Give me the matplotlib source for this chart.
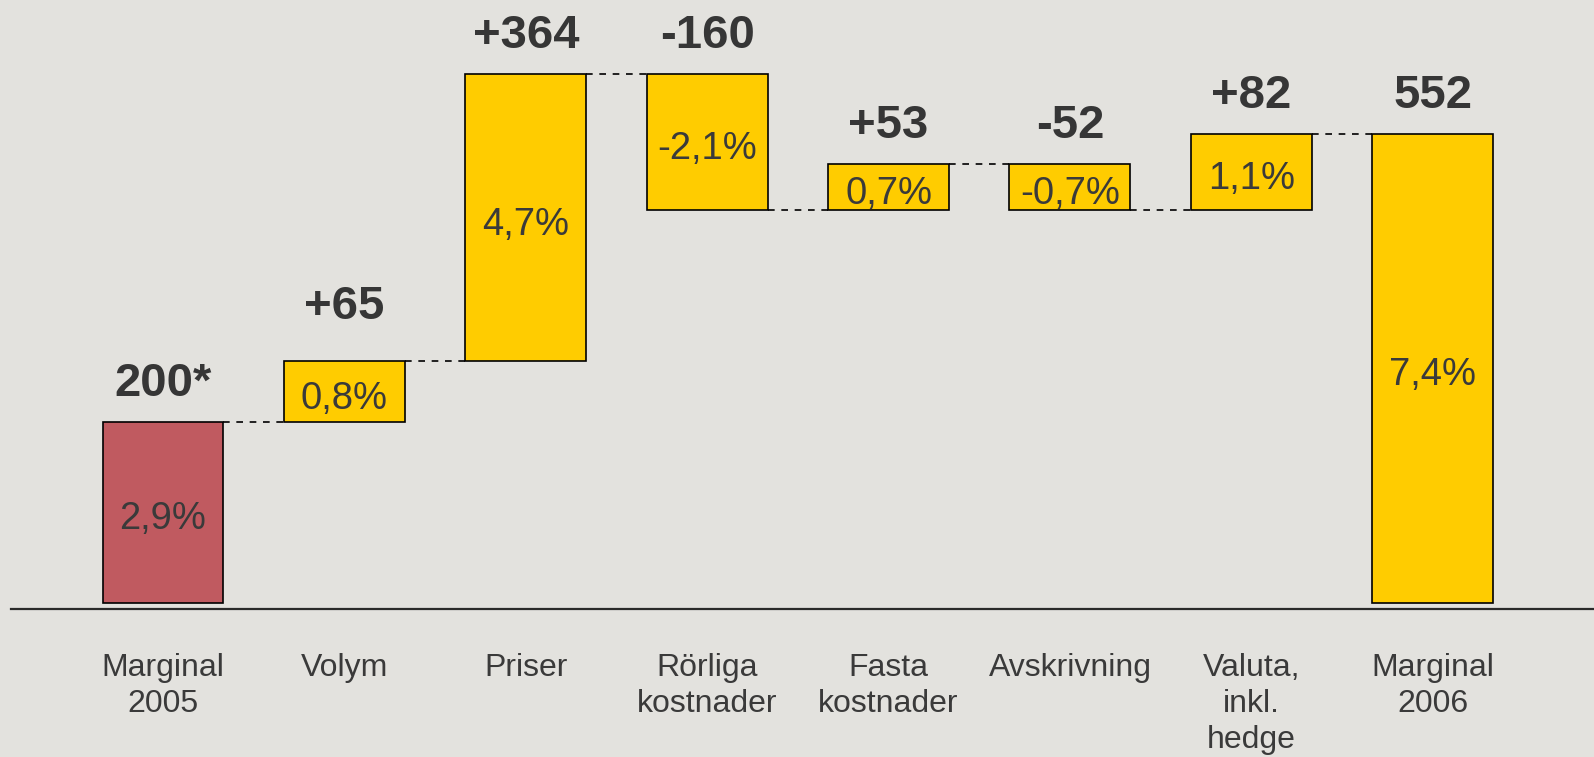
import matplotlib
matplotlib.use('Agg')
import matplotlib.pyplot as plt
import numpy as np

plt.rcParams['font.family'] = ['Liberation Sans', 'DejaVu Sans']

# data (bar heights as drawn in the chart, not to scale with the labels)
categories = ['Marginal\n2005', 'Volym', 'Priser', 'Rörliga\nkostnader', 'Fasta\nkostnader',
              'Avskrivning', 'Valuta,\ninkl.\nhedge', 'Marginal\n2006']
start_value = 181
steps = [61, 287, -136, 46, -46, 76]
end_value = 469
value_labels = ['200*', '+65', '+364', '-160', '+53', '-52', '+82', '552']
pct_labels = ['2,9%', '0,8%', '4,7%', '-2,1%', '0,7%', '-0,7%', '1,1%', '7,4%']

BG = '#E3E2DE'
RED = '#C05A60'
YELLOW = '#FFCC00'
TXT = '#363636'

# bottoms / heights of each bar
levels = np.cumsum([start_value] + steps)
bottoms = [0]
heights = [start_value]
for i, s in enumerate(steps):
    prev = levels[i]
    bottoms.append(min(prev, prev + s))
    heights.append(abs(s))
bottoms.append(0)
heights.append(end_value)
colors = [RED] + [YELLOW] * len(steps) + [YELLOW]

fig = plt.figure(figsize=(15.94, 7.57), dpi=100, facecolor=BG)
ax = fig.add_axes([0, 0, 1, 1])
ax.set_facecolor(BG)
ax.set_xlim(-0.8986, 7.889)
ax.set_ylim(-154, 603)
ax.axis('off')

x = np.arange(len(categories))
w = 0.667
ax.bar(x, heights, bottom=bottoms, width=w, color=colors, edgecolor='black', linewidth=1.2, zorder=3)

# base line
ax.plot([-0.838, 7.889], [-6, -6], color='#2a2a2a', lw=1.6, zorder=2)

# dashed connectors
for i in range(len(categories) - 1):
    lv = levels[i] if i < len(levels) else end_value
    ax.plot([x[i] + w / 2, x[i + 1] - w / 2], [lv, lv], color='black', lw=1.2,
            linestyle=(0, (4, 4)), zorder=2)

# big value labels above bars
tops = [b + h for b, h in zip(bottoms, heights)]
extra = {1: 16}
for i, lab in enumerate(value_labels):
    ax.text(x[i], tops[i] + 38 + extra.get(i, 0), lab, ha='center', va='center',
            fontsize=34, fontweight='bold', color=TXT, zorder=4)

# percentages inside bars
for i, lab in enumerate(pct_labels):
    ax.text(x[i], bottoms[i] + heights[i] / 2 - 3, lab, ha='center', va='center_baseline',
            fontsize=27.5, color='#3a3a3a', zorder=4)

# category labels
for i, lab in enumerate(categories):
    ax.text(x[i], -50, lab, ha='center', va='top', fontsize=23,
            color='#3a3a3a', linespacing=1.27)

fig.savefig('out.png', dpi=100, facecolor=BG)
